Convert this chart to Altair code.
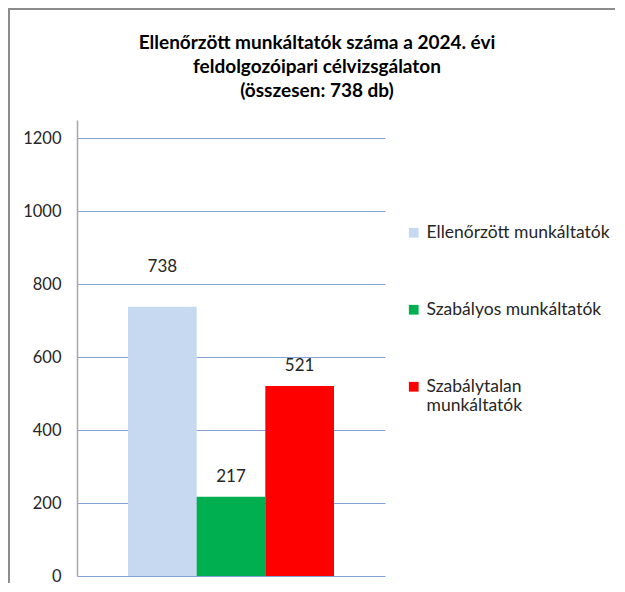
import altair as alt
import pandas as pd

categories = ["Ellenőrzött munkáltatók", "Szabályos munkáltatók", "Szabálytalan munkáltatók"]
values = [738, 217, 521]
colors = ["#C6D9F1", "#00B050", "#FF0000"]
y_ticks = [0, 200, 400, 600, 800, 1000, 1200]
title_lines = ["Ellenőrzött munkáltatók száma a 2024. évi", "feldolgozóipari célvizsgálaton", "(összesen: 738 db)"]

df = pd.DataFrame({"kat": categories, "db": values})

FONT = "Lato"
TXT = "#262626"

x_enc = alt.X("kat:N", sort=categories, axis=None,
              scale=alt.Scale(paddingInner=0, paddingOuter=0.743))
y_scale = alt.Scale(domain=[0, 1250], nice=False)

bars = alt.Chart(df).mark_bar(size=68.7).encode(
    x=x_enc,
    y=alt.Y("db:Q", scale=y_scale,
            axis=alt.Axis(values=y_ticks, title=None, ticks=False, labelPadding=16, format="d",
                          labelFont=FONT, labelFontSize=16.5, labelColor=TXT,
                          domainColor="#A6A6A6", domainWidth=1.5,
                          gridColor="#86A2D4", gridWidth=1.2)),
    color=alt.Color("kat:N", sort=categories,
                    scale=alt.Scale(domain=categories, range=colors),
                    legend=alt.Legend(title=None, orient="none", legendX=328, legendY=104,
                                      symbolType="square", symbolSize=95, symbolStrokeWidth=0,
                                      labelFont=FONT, labelFontSize=17.5, labelColor=TXT,
                                      labelLimit=300, rowPadding=58, labelOffset=4,
                                      labelExpr="datum.label == 'Szabálytalan munkáltatók' ? ['Szabálytalan', 'munkáltatók'] : datum.label")),
)

# the label of the first bar sits higher, above the 800 gridline, as in the source
labels = alt.Chart(df).transform_calculate(
    ly="datum.db == 738 ? datum.db + 55 : datum.db"
).mark_text(dy=-20, font=FONT, fontSize=17, color=TXT).encode(
    x=alt.X("kat:N", sort=categories, axis=None),
    y=alt.Y("ly:Q", scale=y_scale),
    text=alt.Text("db:Q"),
)

left_edge = alt.Chart(df).mark_rect(color="#8C8C8C", strokeWidth=0).encode(
    x=alt.value(-69), x2=alt.value(-67), y=alt.value(-112), y2=alt.value(463)
).transform_filter("datum.db == 738")

top_edge = alt.Chart(df).mark_rect(color="#8C8C8C", strokeWidth=0).encode(
    x=alt.value(-69), x2=alt.value(538), y=alt.value(-112), y2=alt.value(-110)
).transform_filter("datum.db == 738")

chart = alt.layer(left_edge, top_edge, bars, labels).properties(
    width=308, height=456,
    padding={"left": 69, "top": 112, "right": 232, "bottom": 8},
    autosize=alt.AutoSizeParams(type="none"),
    title=alt.TitleParams(title_lines, anchor="middle", dx=86, offset=0, dy=93,
                          font=FONT, fontSize=19, fontWeight="bold", color="#000000",
                          lineHeight=24),
).configure_view(stroke=None)

chart.save("out.html", embed_options={"renderer": "svg", "actions": False})
